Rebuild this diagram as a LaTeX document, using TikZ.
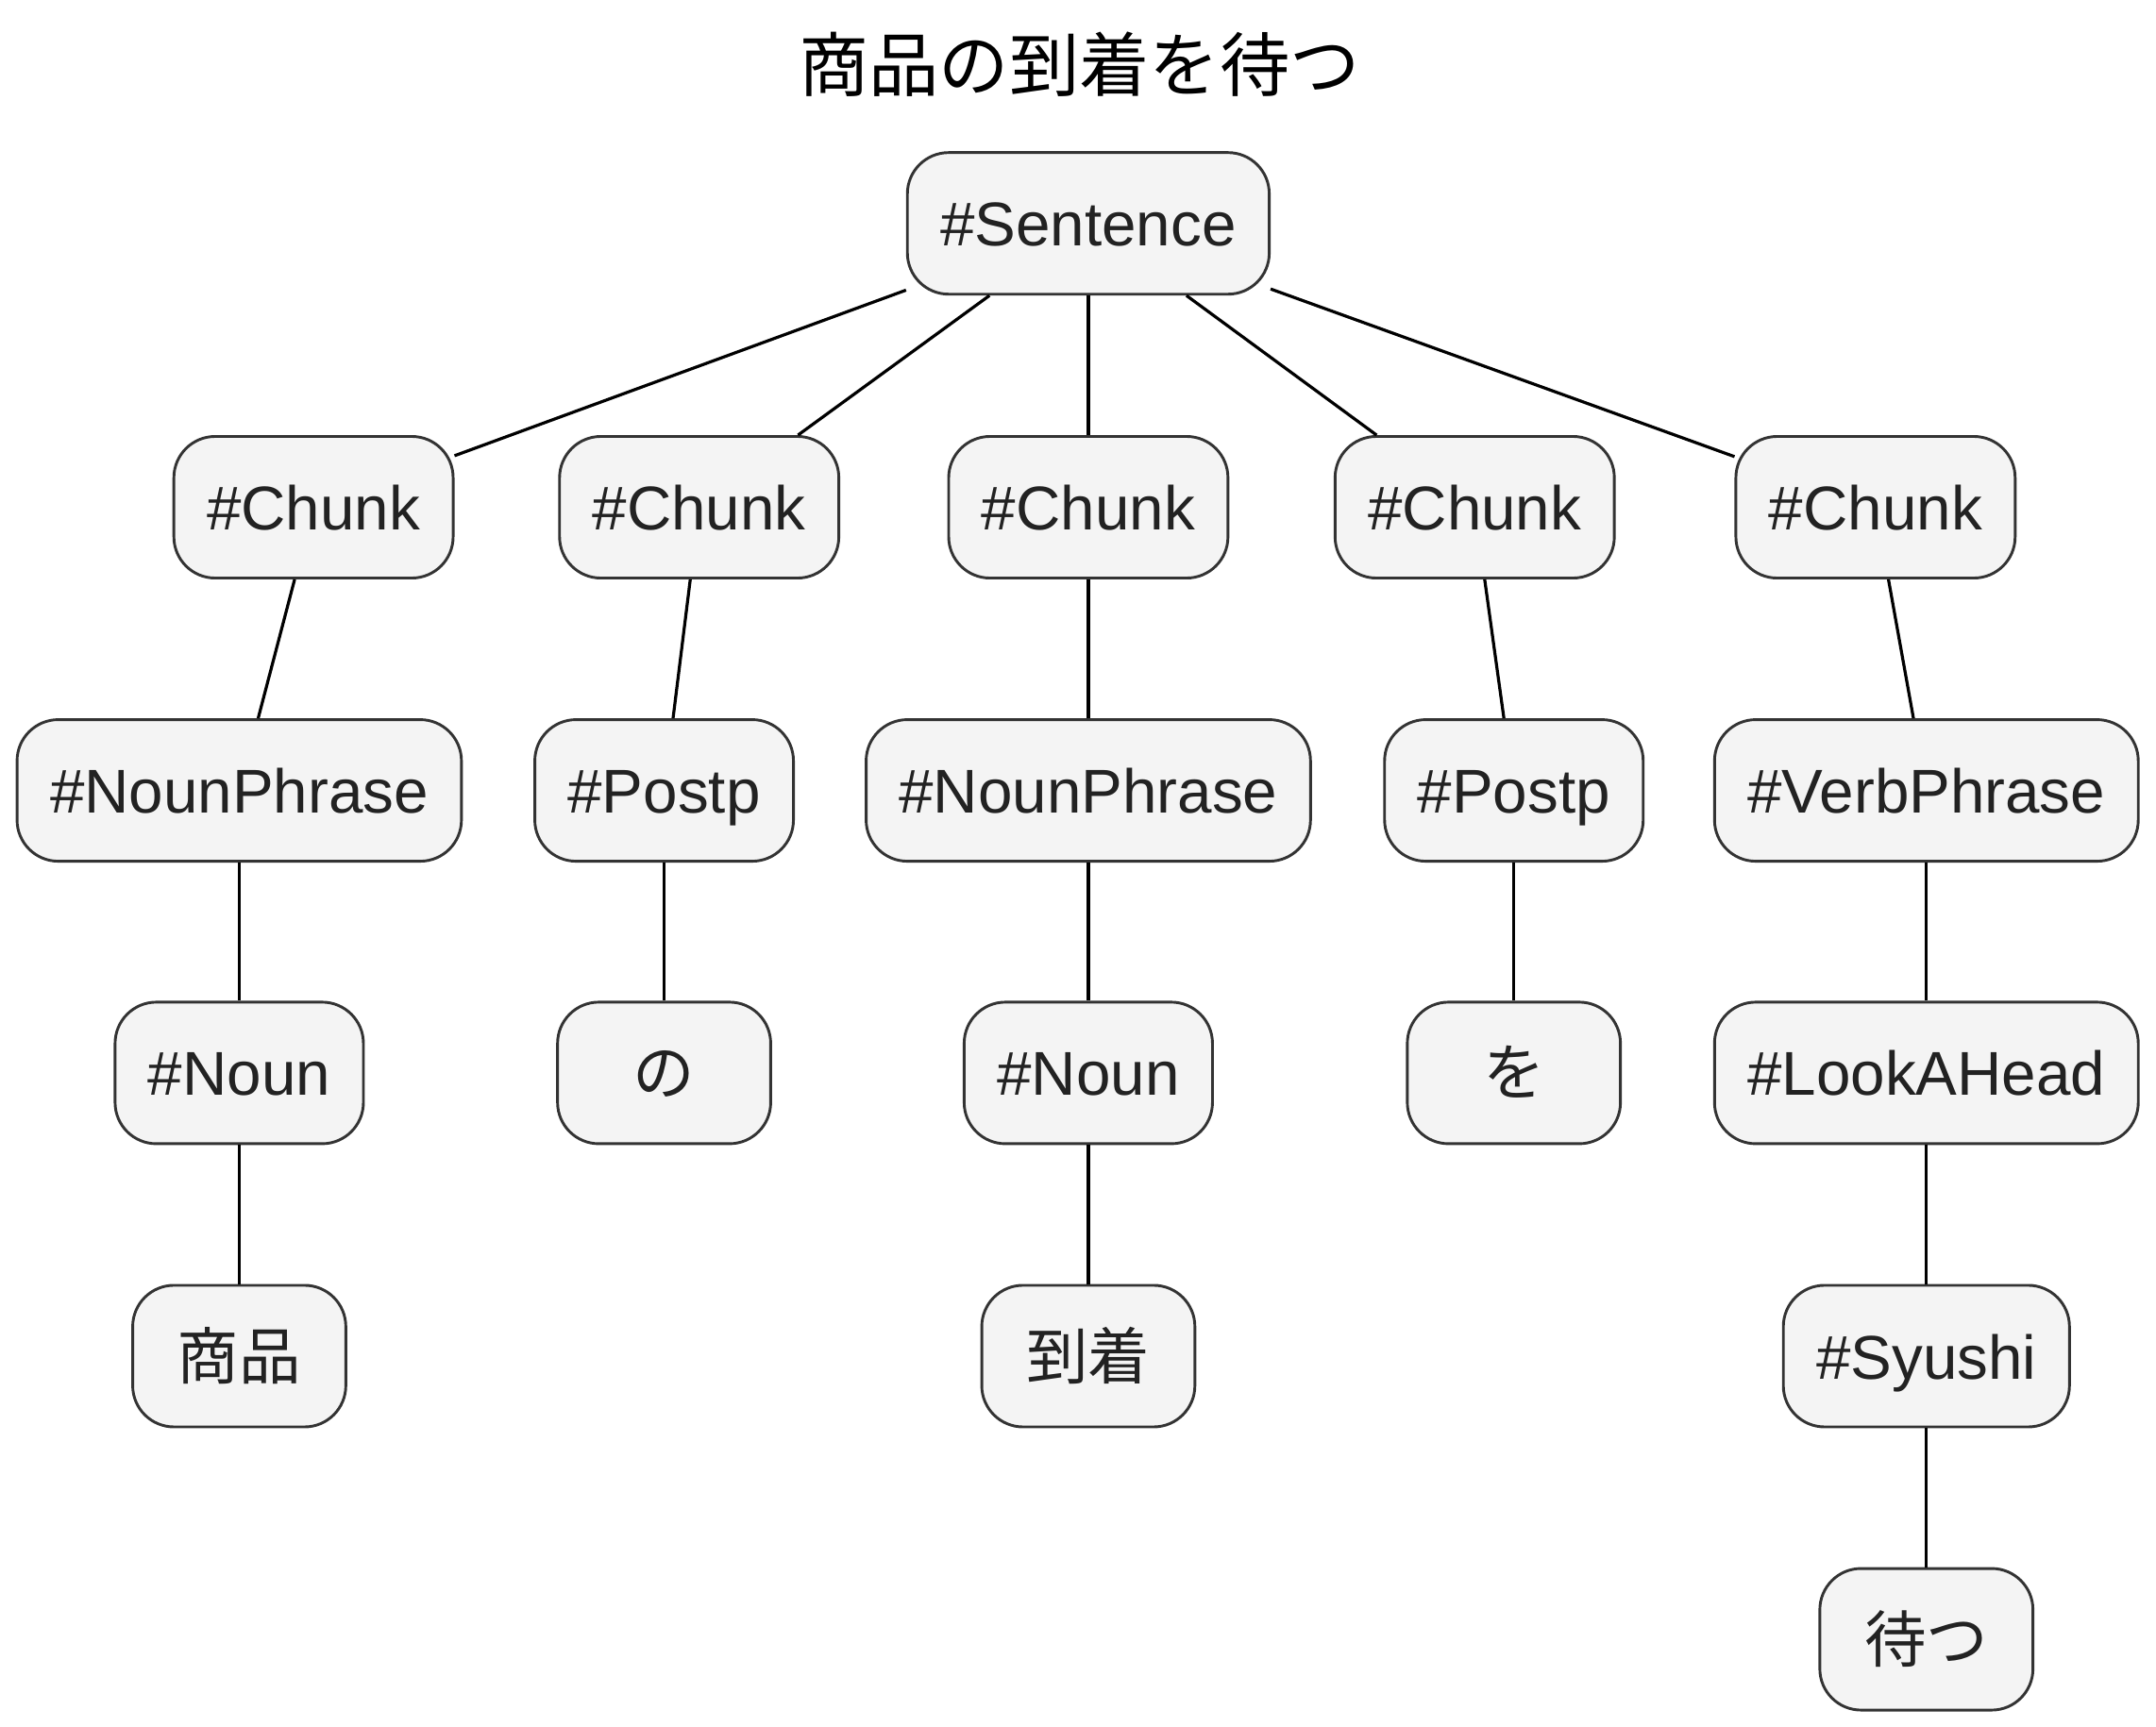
\documentclass[tikz,border=0pt]{standalone}
\usepackage{fontspec}
\setmainfont{Liberation Sans}
\newfontfamily\jpfont{Noto Sans CJK JP}
\definecolor{boxfill}{HTML}{F4F4F4}
\definecolor{boxline}{HTML}{333333}
\definecolor{textgray}{HTML}{222222}
\tikzset{
  treenode/.style={draw=boxline, fill=boxfill, line width=2pt, rounded corners=30pt,
    minimum height=103pt, minimum width=155pt, inner xsep=24pt, text=textgray,
    text height=33pt, text depth=0pt, font=\fontsize{45}{54}\selectfont},
  branch/.style={draw=black, line width=2.2pt}
}
\begin{document}
\begin{tikzpicture}[x=1pt,y=-1pt]
      \useasboundingbox (0,0) rectangle (1568,1256);
      % Title
      \node (title) at (785,47) {\jpfont\fontsize{51}{60}\selectfont 商品の到着を待つ};
      % Root
      \node[treenode] (sentence) at (791.5,162.5) {\#Sentence};
      % Chunks
      \node[treenode] (chunkA) at (228,369) {\#Chunk};
      \node[treenode] (chunkB) at (508.5,369) {\#Chunk};
      \node[treenode] (chunkC) at (791.5,369) {\#Chunk};
      \node[treenode] (chunkD) at (1072.5,369) {\#Chunk};
      \node[treenode] (chunkE) at (1364,369) {\#Chunk};
      % Phrases
      \node[treenode] (nounphraseA) at (174,575) {\#NounPhrase};
      \node[treenode] (postpA) at (483,575) {\#Postp};
      \node[treenode] (nounphraseB) at (791.5,575) {\#NounPhrase};
      \node[treenode] (postpB) at (1101,575) {\#Postp};
      \node[treenode] (verbphrase) at (1401,575) {\#VerbPhrase};
      % Words and tags
      \node[treenode] (nounA) at (174,780.5) {\#Noun};
      \node[treenode] (no) at (483,780.5) {\jpfont の};
      \node[treenode] (nounB) at (791.5,780.5) {\#Noun};
      \node[treenode] (wo) at (1101,780.5) {\jpfont を};
      \node[treenode] (lookahead) at (1401,780.5) {\#LookAHead};
      \node[treenode] (shouhin) at (174,986.5) {\jpfont 商品};
      \node[treenode] (touchaku) at (791.5,986.5) {\jpfont 到着};
      \node[treenode] (syushi) at (1401,986.5) {\#Syushi};
      \node[treenode] (matsu) at (1401,1192.5) {\jpfont 待つ};
      % Edges
      \foreach \kid in {chunkA,chunkB,chunkC,chunkD,chunkE}
        \draw[branch] (sentence) -- (\kid);
      \draw[branch] (chunkA) -- (nounphraseA);
      \draw[branch] (chunkB) -- (postpA);
      \draw[branch] (chunkC) -- (nounphraseB);
      \draw[branch] (chunkD) -- (postpB);
      \draw[branch] (chunkE) -- (verbphrase);
      \draw[branch] (nounphraseA) -- (nounA);
      \draw[branch] (nounA) -- (shouhin);
      \draw[branch] (postpA) -- (no);
      \draw[branch] (nounphraseB) -- (nounB);
      \draw[branch] (nounB) -- (touchaku);
      \draw[branch] (postpB) -- (wo);
      \draw[branch] (verbphrase) -- (lookahead);
      \draw[branch] (lookahead) -- (syushi);
      \draw[branch] (syushi) -- (matsu);
    \end{tikzpicture}
\end{document}
